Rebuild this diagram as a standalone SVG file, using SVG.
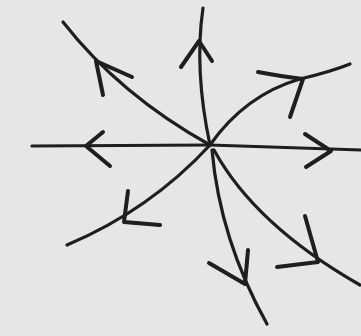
<svg xmlns="http://www.w3.org/2000/svg" width="361" height="336" viewBox="0 0 361 336">
<style>
.t{fill:none;stroke:#1e1e1e;stroke-width:3.2;stroke-linecap:round;stroke-linejoin:round}
.h{fill:none;stroke:#1e1e1e;stroke-width:4;stroke-linecap:round;stroke-linejoin:round}
</style>
<rect width="361" height="336" fill="#e6e6e6"/>
<g id="connectors">
<g id="t-upleft"><path class="t" d="M63,22 Q120,95 210,145"/><path class="h" d="M132,77 L96,61 L103,95"/></g>
<g id="t-left"><path class="t" d="M32,146 L210,145"/><path class="h" d="M103,132 L86,146 L110,166"/></g>
<g id="t-top"><path class="t" d="M203,8 Q194,70 210,145"/><path class="h" d="M181,67 L199,41 L212,61"/></g>
<g id="t-upright"><path class="t" d="M210,145 Q245,95 300,79 Q330,72 350,64"/><path class="h" d="M258,72 Q285,77 303,79 L290,117"/></g>
<g id="t-right"><path class="t" d="M210,145 L361,150"/><path class="h" d="M305,134 L331,151 L306,167"/></g>
<g id="t-lowleft"><path class="t" d="M210,145 Q150,210 67,245" stroke-width="4"/><path class="h" d="M128,191 L124,222 L160,225"/></g>
<g id="t-low"><path class="t" d="M212,150 Q220,240 267,324"/><path class="h" d="M209,263 L245,284 L248,250"/></g>
<g id="t-lowright"><path class="t" d="M214,150 Q255,225 360,285"/><path class="h" d="M305,216 L318,262 L277,267"/></g>
</g>
</svg>
